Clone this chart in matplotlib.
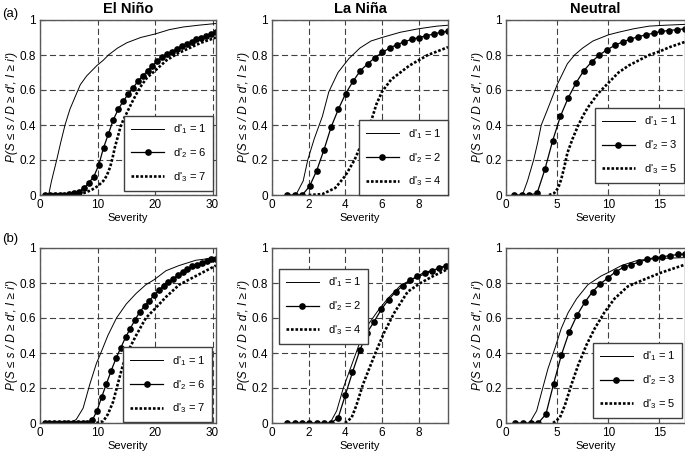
import matplotlib
matplotlib.use("Agg")
import matplotlib.pyplot as plt

plt.rcParams['font.family'] = ['Liberation Sans', 'DejaVu Sans']
plt.rcParams['mathtext.default'] = 'regular'

titles = ["El Niño", "La Niña", "Neutral"]
xmaxes = [30.6, 9.6, 17.5]
xticks_list = [[0, 10, 20, 30], [0, 2, 4, 6, 8], [0, 5, 10, 15]]
yticks = [0, 0.2, 0.4, 0.6, 0.8, 1]
ytick_labels = ["0", "0.2", "0.4", "0.6", "0.8", "1"]
d_values = [[1, 6, 7], [1, 2, 4], [1, 3, 5]]

# (a) El Nino
en_a_x1 = [1.5, 2.0, 2.9, 3.6, 4.35, 5.2, 6.1, 7.0, 8.1, 9.0, 9.9, 11.0, 11.9, 13.5, 15.1, 17.5, 20.0, 22.5, 24.9, 27.5, 30.6]
en_a_y1 = [0.0, 0.08, 0.2, 0.3, 0.4, 0.49, 0.56, 0.63, 0.68, 0.71, 0.74, 0.77, 0.80, 0.84, 0.87, 0.9, 0.92, 0.945, 0.96, 0.97, 0.98]
en_a_x2 = [0.85, 1.7, 2.55, 3.4, 4.25, 5.1, 5.95, 6.8, 7.65, 8.5, 9.35, 10.2, 11.05, 11.9, 12.75, 13.6, 14.45, 15.3,
           16.15, 17.0, 17.85, 18.7, 19.55, 20.4, 21.25, 22.1, 22.95, 23.8, 24.65, 25.5, 26.35, 27.2, 28.05, 28.9, 29.75, 30.6]
en_a_y2 = [0, 0, 0, 0, 0, 0.003, 0.01, 0.02, 0.04, 0.07, 0.105, 0.17, 0.27, 0.35, 0.43, 0.49, 0.535, 0.575,
           0.61, 0.65, 0.68, 0.71, 0.74, 0.765, 0.79, 0.805, 0.82, 0.835, 0.85, 0.865, 0.875, 0.89, 0.9, 0.91, 0.92, 0.93]
en_a_x3 = [6.0, 7.0, 8.0, 9.0, 10.0, 11.0, 11.6, 12.2, 12.6, 13.0, 13.5, 14.0, 14.5, 15.1, 16.0, 16.8, 17.7, 18.6, 20.0, 22.0, 24.0, 26.0, 28.0, 30.6]
en_a_y3 = [0.0, 0.005, 0.015, 0.03, 0.05, 0.08, 0.11, 0.16, 0.21, 0.27, 0.33, 0.39, 0.43, 0.47, 0.53, 0.58, 0.63, 0.67, 0.71, 0.77, 0.81, 0.84, 0.87, 0.9]

# (a) La Nina
ln_a_x1 = [1.3, 1.5, 1.7, 1.95, 2.3, 2.75, 3.1, 3.6, 4.2, 4.8, 5.4, 6.0, 7.0, 8.0, 9.0, 9.6]
ln_a_y1 = [0.0, 0.04, 0.08, 0.2, 0.32, 0.45, 0.59, 0.7, 0.78, 0.84, 0.88, 0.9, 0.93, 0.95, 0.965, 0.97]
ln_a_x2 = [0.82, 1.24, 1.65, 2.05, 2.44, 2.84, 3.23, 3.62, 4.02, 4.42, 4.82, 5.22, 5.62, 6.02, 6.42, 6.82, 7.22, 7.62, 8.02, 8.42, 8.82, 9.22, 9.6]
ln_a_y2 = [0, 0, 0, 0.05, 0.14, 0.26, 0.39, 0.49, 0.58, 0.65, 0.71, 0.75, 0.785, 0.815, 0.84, 0.86, 0.875, 0.89, 0.9, 0.91, 0.92, 0.93, 0.935]
ln_a_x3 = [2.0, 2.75, 3.45, 4.0, 4.5, 5.0, 5.4, 5.7, 6.0, 6.5, 7.0, 7.5, 8.0, 8.5, 9.0, 9.6]
ln_a_y3 = [0.0, 0.005, 0.04, 0.11, 0.2, 0.32, 0.42, 0.52, 0.59, 0.66, 0.7, 0.74, 0.77, 0.8, 0.82, 0.845]

# (a) Neutral
nt_a_x1 = [1.6, 2.1, 2.7, 3.1, 3.45, 4.0, 4.4, 5.0, 5.5, 6.0, 6.7, 7.5, 8.5, 10.0, 11.0, 12.5, 14.0, 15.5, 17.5]
nt_a_y1 = [0.0, 0.08, 0.2, 0.3, 0.4, 0.48, 0.54, 0.63, 0.69, 0.75, 0.8, 0.84, 0.88, 0.915, 0.93, 0.95, 0.965, 0.97, 0.975]
nt_a_x2 = [0.76, 1.52, 2.28, 3.04, 3.8, 4.56, 5.32, 6.08, 6.84, 7.6, 8.36, 9.12, 9.88, 10.64, 11.4, 12.16, 12.92, 13.68, 14.44, 15.2, 15.96, 16.72, 17.48]
nt_a_y2 = [0, 0, 0, 0.01, 0.146, 0.31, 0.45, 0.555, 0.64, 0.71, 0.76, 0.8, 0.83, 0.855, 0.875, 0.89, 0.905, 0.915, 0.925, 0.935, 0.94, 0.945, 0.95]
nt_a_x3 = [4.2, 4.7, 5.1, 5.4, 5.7, 6.0, 6.5, 7.0, 7.5, 8.0, 8.5, 9.0, 10.0, 11.0, 12.0, 13.0, 14.0, 15.0, 16.0, 17.5]
nt_a_y3 = [0.0, 0.01, 0.04, 0.09, 0.16, 0.24, 0.32, 0.39, 0.45, 0.5, 0.54, 0.58, 0.64, 0.7, 0.74, 0.77, 0.8, 0.82, 0.845, 0.875]

# (b) El Nino
en_b_x1 = [5.2, 6.3, 7.5, 8.65, 9.8, 10.7, 11.8, 13.3, 15.0, 16.7, 18.4, 19.9, 21.9, 24.2, 27.1, 30.6]
en_b_y1 = [0.0, 0.02, 0.085, 0.22, 0.34, 0.41, 0.5, 0.6, 0.68, 0.74, 0.79, 0.82, 0.87, 0.9, 0.93, 0.945]
en_b_x2 = [0.8, 1.63, 2.46, 3.28, 4.11, 4.94, 5.77, 6.6, 7.42, 8.25, 9.08, 9.91, 10.74, 11.56, 12.39, 13.22, 14.05, 14.88, 15.7,
           16.53, 17.36, 18.19, 19.02, 19.84, 20.67, 21.5, 22.33, 23.16, 23.98, 24.81, 25.64, 26.47, 27.3, 28.12, 28.95, 29.78, 30.6]
en_b_y2 = [0, 0, 0, 0, 0, 0, 0, 0, 0, 0, 0.015, 0.07, 0.15, 0.225, 0.3, 0.37, 0.43, 0.49, 0.54,
           0.59, 0.635, 0.67, 0.7, 0.73, 0.76, 0.785, 0.805, 0.825, 0.845, 0.865, 0.88, 0.895, 0.905, 0.915, 0.925, 0.935, 0.94]
en_b_x3 = [9.8, 11.0, 11.8, 12.7, 13.5, 14.4, 15.3, 16.7, 18.4, 19.9, 21.9, 24.2, 27.1, 30.6]
en_b_y3 = [0.0, 0.01, 0.05, 0.12, 0.22, 0.33, 0.41, 0.5, 0.6, 0.65, 0.72, 0.79, 0.84, 0.9]

# (b) La Nina
ln_b_x1 = [3.17, 3.53, 3.89, 4.34, 4.79, 5.23, 5.77, 6.3, 7.0, 7.6, 8.3, 9.0, 9.6]
ln_b_y1 = [0.0, 0.07, 0.2, 0.33, 0.46, 0.56, 0.64, 0.71, 0.785, 0.82, 0.85, 0.88, 0.9]
ln_b_x2 = [0.84, 1.24, 1.64, 2.04, 2.43, 2.82, 3.21, 3.61, 4.0, 4.39, 4.79, 5.18, 5.57, 5.97, 6.36, 6.75, 7.15, 7.54, 7.93, 8.32, 8.72, 9.11, 9.5]
ln_b_y2 = [0, 0, 0, 0, 0, 0, 0, 0.03, 0.16, 0.29, 0.415, 0.515, 0.58, 0.65, 0.705, 0.75, 0.785, 0.815, 0.84, 0.86, 0.87, 0.885, 0.9]
ln_b_x3 = [3.98, 4.34, 4.6, 4.96, 5.3, 5.68, 6.13, 6.67, 7.4, 8.1, 8.8, 9.6]
ln_b_y3 = [0.0, 0.03, 0.1, 0.22, 0.31, 0.41, 0.52, 0.63, 0.75, 0.8, 0.84, 0.88]

# (b) Neutral
nt_b_x1 = [2.3, 3.0, 3.5, 4.1, 4.8, 5.4, 6.07, 6.9, 8.0, 9.3, 10.0, 11.3, 12.9, 14.8, 17.5]
nt_b_y1 = [0.0, 0.07, 0.18, 0.31, 0.43, 0.54, 0.63, 0.71, 0.79, 0.84, 0.86, 0.9, 0.93, 0.94, 0.945]
nt_b_x2 = [0.88, 1.65, 2.4, 3.15, 3.9, 4.66, 5.42, 6.18, 6.94, 7.7, 8.46, 9.22, 9.98, 10.74, 11.5, 12.26, 13.02, 13.78, 14.54, 15.3, 16.06, 16.82, 17.5]
nt_b_y2 = [0, 0, 0, 0, 0.05, 0.225, 0.39, 0.52, 0.615, 0.69, 0.75, 0.795, 0.83, 0.865, 0.89, 0.905, 0.92, 0.935, 0.945, 0.95, 0.957, 0.963, 0.966]
nt_b_x3 = [4.6, 5.26, 5.75, 6.4, 7.05, 7.86, 8.67, 9.6, 10.6, 11.9, 13.5, 15.2, 17.5]
nt_b_y3 = [0.0, 0.03, 0.1, 0.22, 0.33, 0.445, 0.54, 0.63, 0.71, 0.78, 0.82, 0.86, 0.905]

panels = [
    [(en_a_x1, en_a_y1, en_a_x2, en_a_y2, en_a_x3, en_a_y3),
     (ln_a_x1, ln_a_y1, ln_a_x2, ln_a_y2, ln_a_x3, ln_a_y3),
     (nt_a_x1, nt_a_y1, nt_a_x2, nt_a_y2, nt_a_x3, nt_a_y3)],
    [(en_b_x1, en_b_y1, en_b_x2, en_b_y2, en_b_x3, en_b_y3),
     (ln_b_x1, ln_b_y1, ln_b_x2, ln_b_y2, ln_b_x3, ln_b_y3),
     (nt_b_x1, nt_b_y1, nt_b_x2, nt_b_y2, nt_b_x3, nt_b_y3)],
]

# legend placement (loc, anchor) per panel
legend_pos = [
    [('lower right', (0.985, 0.025)), ('lower right', (1.0, 0.0)), ('lower right', (0.995, 0.07))],
    [('lower right', (0.98, 0.005)), ('upper left', (0.04, 0.88)), ('lower right', (0.983, 0.03))],
]

fig = plt.figure(figsize=(6.85, 4.53), dpi=100)

lefts = [40 / 685, 272 / 685, 506 / 685]
widths = [176 / 685, 176 / 685, 179 / 685]
bottoms = [1 - 195 / 453, 1 - 423 / 453]
height = 175 / 453

ylabel = "P(S \u2264 s / D \u2265 d', I \u2265 i')"

for r in range(2):
    for c in range(3):
        ax = fig.add_axes([lefts[c], bottoms[r], widths[c], height])
        x1, y1, x2, y2, x3, y3 = panels[r][c]
        d = d_values[c]
        ax.plot(x1, y1, color='black', lw=0.7, label="d'$_1$ = %d" % d[0])
        ax.plot(x2, y2, color='black', lw=0.9, marker='o', ms=3.8, label="d'$_2$ = %d" % d[1])
        ax.plot(x3, y3, color='black', lw=1.9, linestyle=(0, (1, 0.7)), label="d'$_3$ = %d" % d[2])

        ax.set_xlim(0, xmaxes[c])
        ax.set_ylim(0, 1)
        ax.set_xticks(xticks_list[c])
        ax.set_yticks(yticks)
        ax.set_yticklabels(ytick_labels)
        ax.tick_params(direction='in', length=3, labelsize=8.5, pad=3, color='0.3')
        ax.grid(True, color='0.25', linestyle=(0, (5.5, 3)), lw=0.8)
        for sp in ax.spines.values():
            sp.set_color('0.35')
            sp.set_linewidth(1.0)
        ax.set_xlabel("Severity", fontsize=8, labelpad=1)
        ax.set_ylabel(ylabel, fontsize=8.5, style='italic', labelpad=1)
        if r == 0:
            ax.set_title(titles[c], fontsize=10.5, fontweight='bold', pad=5)

        loc, anchor = legend_pos[r][c]
        leg = ax.legend(loc=loc, bbox_to_anchor=anchor, fontsize=8, handlelength=3.0,
                        labelspacing=0.9, borderpad=0.6, handletextpad=0.8,
                        fancybox=False, framealpha=1, borderaxespad=0)
        leg.get_frame().set_edgecolor('0.25')
        leg.get_frame().set_linewidth(1.0)

fig.text(0.003, 1 - 14 / 453, "(a)", fontsize=9.5, va='center', ha='left')
fig.text(0.003, 1 - 239 / 453, "(b)", fontsize=9.5, va='center', ha='left')

fig.savefig("out.png", dpi=100)
